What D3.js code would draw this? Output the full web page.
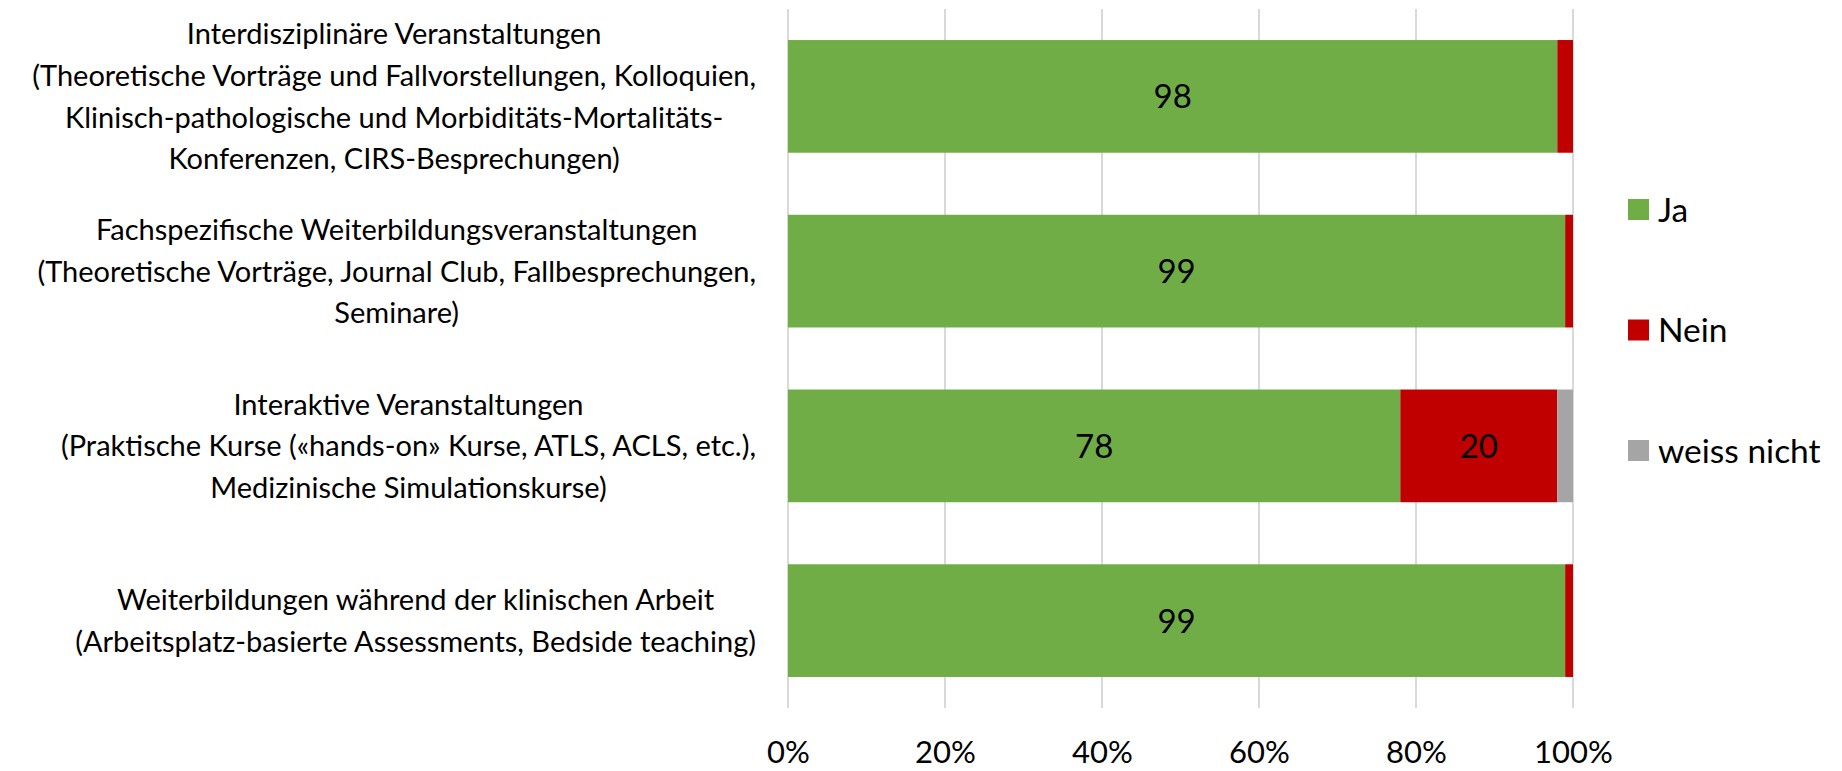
<!DOCTYPE html>
<html>
<head>
<meta charset="utf-8">
<script src="https://cdn.jsdelivr.net/npm/d3@7"></script>
<style>
  html, body { margin: 0; padding: 0; background: #fff; }
  svg { display: block; }
  text { font-family: Lato, "Open Sans", sans-serif; fill: #000; }
</style>
</head>
<body>
<svg id="chart" width="1842" height="771"></svg>
<script>
// ---- data ----
const categories = [
  ["Interdisziplinäre Veranstaltungen",
   "(Theoretische Vorträge und Fallvorstellungen, Kolloquien,",
   "Klinisch-pathologische und Morbiditäts-Mortalitäts-",
   "Konferenzen, CIRS-Besprechungen)"],
  ["Fachspezifische Weiterbildungsveranstaltungen",
   "(Theoretische Vorträge, Journal Club, Fallbesprechungen,",
   "Seminare)"],
  ["Interaktive Veranstaltungen",
   "(Praktische Kurse («hands-on» Kurse, ATLS, ACLS, etc.),",
   "Medizinische Simulationskurse)"],
  ["Weiterbildungen während der klinischen Arbeit",
   "(Arbeitsplatz-basierte Assessments, Bedside teaching)"]
];
const seriesNames = ["Ja", "Nein", "weiss nicht"];
const jaValues = [98, 99, 78, 99];
const neinValues = [2, 1, 20, 1];
const weissNichtValues = [0, 0, 2, 0];
const tickValues = [0, 20, 40, 60, 80, 100];
const seriesColors = ["#70AD47", "#C00000", "#A5A5A5"];
const labelMin = 5; // data labels only on segments this large

// ---- layout ----
const svg = d3.select("#chart");
const plot = { left: 788, right: 1573, top: 9, bottom: 708 };

const keys = categories.map((c, i) => "c" + i);
const rows = keys.map((k, i) => ({ key: k, lines: categories[i], vals: [jaValues[i], neinValues[i], weissNichtValues[i]] }));

const x = d3.scaleLinear().domain([0, 100]).range([plot.left, plot.right]);
const y = d3.scaleBand().domain(keys).range([plot.top, plot.bottom]).paddingInner(0.355).paddingOuter(0.1775);

// gridlines
svg.append("g").selectAll("line").data(tickValues).join("line")
  .attr("x1", d => x(d)).attr("x2", d => x(d))
  .attr("y1", plot.top).attr("y2", plot.bottom)
  .attr("stroke", "#D9D9D9").attr("stroke-width", 2);

// stacked bars
const stack = d3.stack().keys([0, 1, 2]).value((d, k) => d.vals[k]);
const stacked = stack(rows);
const segG = svg.append("g");
stacked.forEach((layer, si) => {
  segG.selectAll(null).data(layer).join("rect")
    .attr("x", d => x(d[0]))
    .attr("y", d => y(d.data.key))
    .attr("width", d => Math.max(0, x(d[1]) - x(d[0])))
    .attr("height", y.bandwidth())
    .attr("fill", seriesColors[si]);
  segG.selectAll(null).data(layer.filter(d => d[1] - d[0] >= labelMin)).join("text")
    .attr("x", d => (x(d[0]) + x(d[1])) / 2)
    .attr("y", d => y(d.data.key) + y.bandwidth() / 2)
    .attr("dy", "0.36em")
    .attr("text-anchor", "middle")
    .style("font-size", "33px")
    .text(d => d[1] - d[0]);
});

// x axis tick labels
const xAxis = d3.axisBottom(x).tickValues(tickValues).tickSize(0).tickPadding(0).tickFormat(d => d + "%");
const axG = svg.append("g").attr("transform", `translate(0, ${plot.bottom + 44})`).call(xAxis);
axG.select(".domain").remove();
axG.selectAll("text").style("font-size", "31px").style("font-family", "Lato, sans-serif").attr("fill", "#000").attr("dy", "0.36em").attr("y", 0);

// category labels (block right-aligned, lines centered inside block)
const labelRight = 756;
const lineH = 41.7;
const catG = svg.append("g");
rows.forEach(r => {
  const g = catG.append("g");
  const cy = y(r.key) + y.bandwidth() / 2;
  const n = r.lines.length;
  const ts = g.selectAll("text").data(r.lines).join("text")
    .attr("y", (d, i) => cy + (i - (n - 1) / 2) * lineH)
    .attr("dy", "0.36em")
    .attr("text-anchor", "middle")
    .style("font-size", "29px")
    .text(d => d);
  let maxW = 0;
  ts.each(function () { maxW = Math.max(maxW, this.getComputedTextLength()); });
  ts.attr("x", labelRight - maxW / 2);
});

// legend
const legendX = 1628, legendY0 = 209.5, legendStep = 120.5, sq = 21;
const lg = svg.append("g").selectAll("g").data(seriesNames).join("g")
  .attr("transform", (d, i) => `translate(${legendX}, ${legendY0 + i * legendStep})`);
lg.append("rect").attr("x", 0).attr("y", -sq / 2).attr("width", sq).attr("height", sq)
  .attr("fill", (d, i) => seriesColors[i]);
lg.append("text").attr("x", 30).attr("dy", "0.36em").style("font-size", "33.5px").text(d => d);
</script>
</body>
</html>
